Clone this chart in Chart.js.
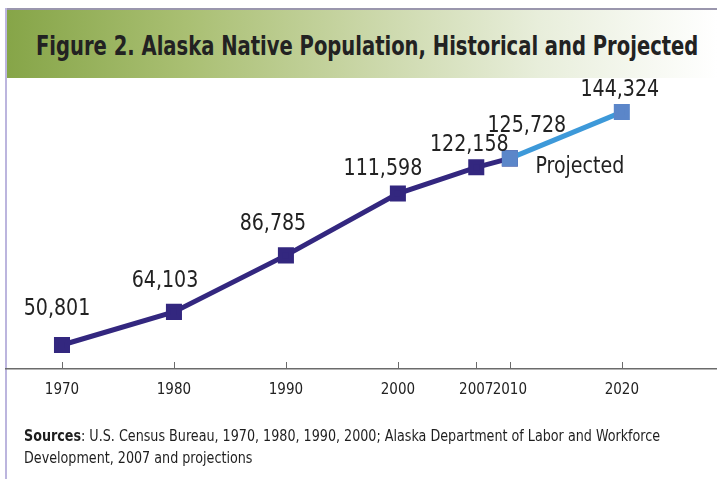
<!DOCTYPE html>
<html><head><meta charset="utf-8">
<script src="https://cdn.jsdelivr.net/npm/chart.js@4/dist/chart.umd.min.js"></script>
<style>
html,body{margin:0;padding:0;background:#fff;}
#wrap{position:relative;width:717px;height:479px;overflow:hidden;background:#fff;}
#topline{position:absolute;left:5px;top:8px;right:0;height:2px;background:#9a96ad;}
#leftline{position:absolute;left:5px;top:8px;bottom:0;width:2px;background:#bcb5de;}
#band{position:absolute;left:7px;top:10px;right:0;height:68px;background:linear-gradient(to right,#86a548 0%,#a9bf72 25%,#c9d6a6 50%,#e8eedb 75%,#ffffff 100%);}
.txt{position:absolute;white-space:nowrap;transform-origin:0 0;color:#1e1e1e;font-family:"Liberation Sans Narrow","DejaVu Sans Condensed","Liberation Sans",sans-serif;}
#title{left:36px;top:28px;font-weight:bold;font-size:26px;line-height:36px;color:#222;}
#src1{left:24px;top:426px;font-size:16px;line-height:20px;}
#src2{left:24px;top:448px;font-size:16px;line-height:20px;}
canvas{position:absolute;left:0;top:0;}
</style></head>
<body>
<div id="wrap">
  <div id="band"></div>
  <div id="topline"></div>
  <div id="leftline"></div>
  <div id="title" class="txt">Figure 2. Alaska Native Population, Historical and Projected</div>
  <canvas id="c" width="717" height="479"></canvas>
  <div id="src1" class="txt"><b>Sources</b>: U.S. Census Bureau, 1970, 1980, 1990, 2000; Alaska Department of Labor and Workforce</div>
  <div id="src2" class="txt">Development, 2007 and projections</div>
</div>
<script>
// ---- data ----
const years = [1970, 1980, 1990, 2000, 2007, 2010, 2020];
const population = [50801, 64103, 86785, 111598, 122158, 125728, 144324];
const projectionStartYear = 2010;
const projectedLabel = "Projected";

// ---- styling ----
const FONT = '"Liberation Sans Narrow","DejaVu Sans Condensed","Liberation Sans",sans-serif';
const labelOffsets = [[-5,-36],[-9,-31],[-13,-31],[-15,-25],[-7,-22],[17,-32],[-2,-22]];

function fitWidth(id, w){
  const el=document.getElementById(id);
  const s=w/el.scrollWidth; el.style.transform='scaleX('+s+')'; return s;
}
fitWidth('title',662);
const s2=fitWidth('src1',636);
document.getElementById('src2').style.transform='scaleX('+s2+')';

const histPts = years.map((y,i)=>({x:y,y:population[i]})).filter(p=>p.x<=projectionStartYear);
const projPts = years.map((y,i)=>({x:y,y:population[i]})).filter(p=>p.x>=projectionStartYear);

function narrowText(ctx, text, x, y, sx){
  ctx.save(); ctx.translate(x,y); ctx.scale(sx,1); ctx.fillText(text,0,0); ctx.restore();
}

const tickMarks = {
  id:'tickMarks',
  afterDraw(chart){
    const ctx=chart.ctx, xs=chart.scales.x, b=chart.chartArea.bottom;
    ctx.save(); ctx.strokeStyle='#6b6b6b'; ctx.lineWidth=1;
    xs.ticks.forEach(t=>{const x=Math.round(xs.getPixelForValue(t.value))+0.5;
      ctx.beginPath(); ctx.moveTo(x,b); ctx.lineTo(x,b-7); ctx.stroke();});
    ctx.restore();
  }
};
const valueLabels = {
  id:'valueLabels',
  afterDatasetsDraw(chart){
    const ctx=chart.ctx, xs=chart.scales.x, ys=chart.scales.y;
    ctx.save(); ctx.fillStyle='#222'; ctx.font='23px '+FONT;
    ctx.textAlign='center'; ctx.textBaseline='middle';
    years.forEach((yr,i)=>{
      const x=xs.getPixelForValue(yr)+labelOffsets[i][0];
      const y=ys.getPixelForValue(population[i])+labelOffsets[i][1];
      narrowText(ctx,population[i].toLocaleString('en-US'),x,y,0.92);
    });
    const a=projPts[0], z=projPts[projPts.length-1];
    const mx=(xs.getPixelForValue(a.x)+xs.getPixelForValue(z.x))/2+14;
    const my=(ys.getPixelForValue(a.y)+ys.getPixelForValue(z.y))/2+32;
    narrowText(ctx,projectedLabel,mx,my,0.92);
    ctx.restore();
  }
};

new Chart(document.getElementById('c'),{
  type:'line',
  data:{datasets:[
    {label:'Projected',data:projPts,borderColor:'#3d99d9',backgroundColor:'#5b86c9',
     pointBackgroundColor:'#5b86c9',pointBorderColor:'#5b86c9',borderWidth:5,
     pointStyle:'rect',pointRadius:7.8,pointHoverRadius:7.8,clip:false,tension:0},
    {label:'Historical',data:histPts,borderColor:'#33277f',backgroundColor:'#33277f',
     pointBackgroundColor:'#33277f',pointBorderColor:'#33277f',borderWidth:5,
     pointStyle:'rect',pointRadius:7.8,pointHoverRadius:7.8,clip:false,tension:0}
  ]},
  options:{
    responsive:false,animation:false,events:[],
    layout:{autoPadding:false,padding:{left:6,right:0,top:80,bottom:68}},
    plugins:{legend:{display:false},tooltip:{enabled:false},title:{display:false}},
    scales:{
      x:{type:'linear',min:1965,max:2028.5,
        afterBuildTicks(sc){sc.ticks=years.map(v=>({value:v}));},
        afterFit(sc){sc.paddingLeft=0;sc.paddingRight=0;},
        grid:{display:false,drawTicks:false},
        border:{display:true,color:'#6b6b6b',width:1.5},
        ticks:{padding:12,color:'#222',font:{family:FONT,size:15},callback:v=>String(v),autoSkip:false,maxRotation:0}},
      y:{display:false,min:41160,max:157200}
    }
  },
  plugins:[tickMarks,valueLabels]
});
</script>
</body></html>
